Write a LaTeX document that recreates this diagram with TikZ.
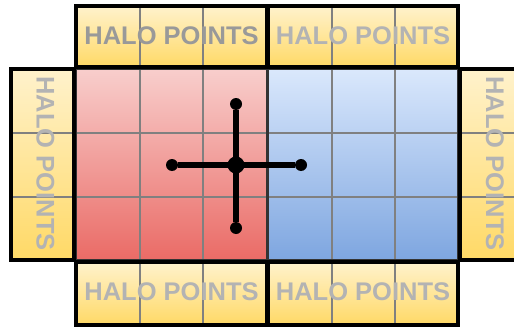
\documentclass[tikz,border=0pt]{standalone}
\usepackage{fontspec}
\setmainfont{Liberation Sans}
\definecolor{haloTop}{HTML}{FFF2CC}
\definecolor{haloBot}{HTML}{FFD966}
\definecolor{redTop}{HTML}{F8CECC}
\definecolor{redBot}{HTML}{EA6B66}
\definecolor{blueTop}{HTML}{DAE8FC}
\definecolor{blueBot}{HTML}{7EA6E0}
\definecolor{gridgray}{HTML}{808080}
\definecolor{textgray}{HTML}{B3B3B3}
\definecolor{textdark}{HTML}{999999}
\definecolor{mainedge}{HTML}{333333}
\begin{document}
\begin{tikzpicture}[x=1pt,y=-1pt,
  halofill/.style={top color=haloTop, bottom color=haloBot},
  redfill/.style={top color=redTop, bottom color=redBot},
  bluefill/.style={top color=blueTop, bottom color=blueBot},
  haloborder/.style={draw=black, line width=3.2pt},
  mainborder/.style={draw=mainedge, line width=1.5pt},
  gridline/.style={draw=gridgray, line width=1.8pt},
  halotext/.style={font=\fontsize{25.5}{30}\selectfont\bfseries, text=textgray, inner sep=0pt},
  dot/.style={circle, fill=black, inner sep=0pt, minimum size=12pt},
  bigdot/.style={dot, minimum size=17pt},
  arm/.style={line width=5.3pt, draw=black}]
\useasboundingbox (0,0) rectangle (514,329);
% fills
\fill[halofill] (76,6) rectangle (267,67);
\fill[halofill] (268,6) rectangle (458,67);
\fill[halofill] (11,69) rectangle (74,260);
\fill[halofill] (460,69) rectangle (523,260);
\fill[halofill] (76,262) rectangle (267,325);
\fill[halofill] (268,262) rectangle (458,325);
\fill[redfill] (76,69) rectangle (267,260);
\fill[bluefill] (268,69) rectangle (458,260);
% grid lines
\draw[gridline] (140,6) -- (140,67) (203,6) -- (203,67);
\draw[gridline] (332,6) -- (332,67) (395,6) -- (395,67);
\draw[gridline] (140,262) -- (140,325) (203,262) -- (203,325);
\draw[gridline] (332,262) -- (332,325) (395,262) -- (395,325);
\draw[gridline] (11,133) -- (74,133) (11,197) -- (74,197);
\draw[gridline] (460,133) -- (523,133) (460,197) -- (523,197);
\draw[gridline] (140,69) -- (140,260) (203,69) -- (203,260)
                (76,133) -- (267,133) (76,197) -- (267,197);
\draw[gridline] (332,69) -- (332,260) (395,69) -- (395,260)
                (268,133) -- (458,133) (268,197) -- (458,197);
% borders
\draw[mainborder] (76,69) rectangle (267,260);
\draw[mainborder] (268,69) rectangle (458,260);
\draw[haloborder] (76,6) rectangle (267,67);
\draw[haloborder] (268,6) rectangle (458,67);
\draw[haloborder] (11,69) rectangle (74,260);
\draw[haloborder] (460,69) rectangle (523,260);
\draw[haloborder] (76,262) rectangle (267,325);
\draw[haloborder] (268,262) rectangle (458,325);
% labels
\node[halotext, text=textdark] (htl) at (171.5,35.5) {HALO POINTS};
\node[halotext] (htr) at (363,35.5) {HALO POINTS};
\node[halotext] (hbl) at (171.5,292) {HALO POINTS};
\node[halotext] (hbr) at (363,292) {HALO POINTS};
\node[halotext, rotate=-90] (hl) at (45.5,163.5) {HALO POINTS};
\node[halotext, rotate=-90] (hr) at (495,163.5) {HALO POINTS};
% stencil
\node[bigdot] (c) at (236,165) {};
\node[dot] (pl) at (172,165) {};
\node[dot] (pr) at (301,165) {};
\node[dot] (pt) at (236,104) {};
\node[dot] (pb) at (236,228) {};
\draw[arm] (pl) -- (pr);
\draw[arm] (pt) -- (pb);
\end{tikzpicture}
\end{document}
